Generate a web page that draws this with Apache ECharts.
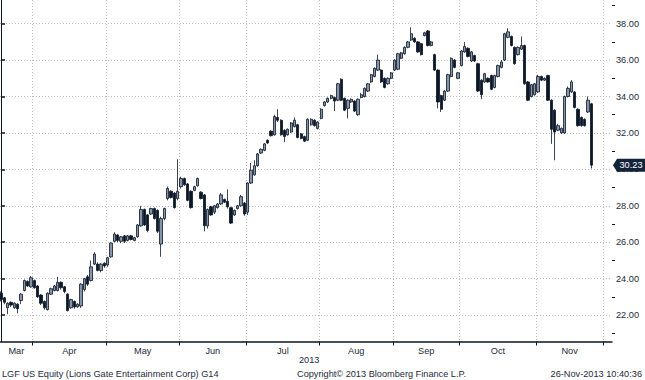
<!DOCTYPE html>
<html><head><meta charset="utf-8">
<script src="https://cdn.jsdelivr.net/npm/echarts@6/dist/echarts.min.js"></script>
<style>html,body{margin:0;padding:0;background:#fff}#c{width:645px;height:380px}</style>
</head><body><div id="c"></div>
<script>
// [open, close, low, high] per trading day, mid-Mar to late Nov 2013
const candles = [
[23.2,22.85,22.75,23.3],[22.95,22.7,22.6,23.0],[22.4,22.65,22.05,22.7],[22.7,22.55,22.45,22.75],[22.4,22.65,22.35,22.7],
[22.6,22.35,22.1,22.65],[22.8,23.15,22.6,23.2],[23.35,23.9,23.3,23.95],[23.85,23.6,23.55,23.9],[23.55,24.05,23.5,24.15],
[23.9,23.5,23.45,23.95],[23.6,23.0,22.95,23.65],[23.1,22.65,22.55,23.15],[22.75,22.4,22.3,22.8],[22.3,23.2,22.25,23.25],
[23.15,23.45,23.1,23.5],[23.35,23.6,23.3,23.65],[23.35,23.8,23.3,24.1],[23.8,23.5,23.4,23.85],[23.55,23.3,23.2,23.6],
[23.15,22.25,22.2,23.2],[22.4,22.85,22.35,22.9],[22.75,22.45,22.35,22.8],[22.45,22.6,22.4,22.65],[22.5,23.7,22.4,23.75],
[23.4,24.0,23.3,24.05],[24.1,23.7,23.6,24.2],[23.9,24.65,23.85,25.0],[24.8,25.35,24.75,25.45],[24.8,24.45,24.4,24.9],
[24.45,24.8,24.35,24.85],[24.85,24.7,24.6,24.9],
[24.75,25.15,24.65,25.2],[25.2,25.95,25.15,26.0],[26.05,26.45,26.0,26.55],[26.4,26.1,26.0,26.45],[26.05,26.3,25.95,26.35],
[26.35,26.05,25.95,26.4],[26.1,26.35,26.05,26.4],[26.35,26.15,26.1,26.4],[26.1,26.25,26.05,26.3],[26.3,26.95,26.25,27.0],
[26.9,27.8,26.85,28.0],[27.8,26.95,26.9,27.85],[27.5,26.65,26.55,27.55],[27.55,27.85,27.5,27.9],[27.85,27.3,27.25,27.9],
[27.75,26.6,26.5,27.8],[25.9,27.3,25.2,27.4],[27.3,27.85,27.2,27.9],[28.4,28.95,28.3,29.05],[28.8,28.45,28.4,28.85],
[28.7,27.9,27.85,28.75],[28.4,28.8,28.3,30.55],
[29.05,29.5,28.95,29.6],[29.5,29.15,29.1,29.55],[29.2,28.3,28.25,29.25],[28.8,27.9,27.85,28.85],[28.85,29.05,28.8,29.1],
[29.1,29.5,29.05,29.55],[28.75,28.4,28.35,28.8],[28.6,26.9,26.6,28.65],[26.9,27.8,26.75,27.85],[27.95,27.5,27.45,28.0],
[27.65,28.0,27.55,28.05],[27.9,28.1,27.85,28.15],[28.1,28.6,28.05,28.7],[28.35,28.2,28.15,28.4],[28.25,27.95,27.85,28.9],
[27.9,27.05,27.0,27.95],[27.5,27.75,27.45,27.8],[27.85,28.0,27.8,28.05],[28.0,28.5,27.95,28.6],[28.15,27.55,27.45,28.2],
[27.65,29.25,27.5,29.3],[29.25,29.95,29.2,30.35],[29.7,30.2,29.65,30.5],[30.2,30.85,30.15,30.9],[30.9,31.1,30.85,31.15],
[31.05,31.4,31.0,31.45],[31.6,31.45,31.4,31.65],[32.1,31.85,31.8,32.15],[31.9,32.9,31.85,33.0],[32.85,32.7,32.6,33.3],
[32.7,31.9,31.85,32.75],[32.15,31.8,31.5,32.2],[31.9,32.2,31.85,32.25],[32.05,32.55,32.0,32.6],[32.35,32.7,32.3,32.85],
[32.45,31.75,31.7,32.5],[31.95,31.7,31.65,32.0],[31.8,31.55,31.5,31.85],[31.6,32.75,31.55,32.8],[32.45,32.75,32.4,32.8],
[32.7,32.4,32.35,32.75],[32.25,32.6,32.2,32.65],
[32.8,33.3,32.75,33.35],[33.5,33.7,33.45,33.75],[33.7,33.9,33.65,33.95],[33.9,34.05,33.85,34.1],[33.95,33.75,33.2,34.0],
[33.8,34.7,33.75,34.75],[34.95,33.8,33.75,35.0],[33.9,33.25,33.2,33.95],[33.35,33.8,32.8,33.85],[33.7,33.85,33.65,33.9],
[33.75,33.2,33.15,33.8],[33.0,33.85,32.95,33.9],[33.95,34.1,33.9,34.2],[34.0,34.45,33.95,34.5],[34.3,34.7,34.25,34.75],
[34.8,35.2,34.75,35.25],[35.1,35.55,35.05,35.6],[35.45,36.0,35.4,36.3],[35.45,34.8,34.75,35.5],[35.0,34.5,34.45,35.05],
[34.7,35.0,34.65,35.05],[35.0,35.3,34.95,35.35],
[35.45,36.0,35.4,36.05],[35.5,36.35,35.45,36.4],[36.1,36.4,36.05,36.45],[36.35,36.7,36.3,36.75],[36.7,37.0,36.65,37.05],
[37.1,37.45,37.05,37.8],[37.2,37.0,36.95,37.25],[37.0,36.45,36.4,37.05],[36.9,36.3,36.25,36.95],[37.35,37.5,37.3,37.55],
[37.6,36.8,36.75,37.65],[36.8,37.0,36.75,37.05],[36.3,35.45,35.4,36.35],[35.45,33.7,33.35,35.5],[34.05,33.3,33.15,34.1],
[33.8,34.3,33.75,34.35],[34.3,35.2,34.25,35.25],[35.1,36.1,35.05,36.15],[36.0,35.6,35.55,36.05],[35.0,35.3,34.95,35.35],
[35.7,36.5,35.65,36.55],[36.45,36.75,36.4,37.0],[36.65,36.2,36.15,36.7],[35.95,36.45,35.9,36.5],[36.25,35.95,35.9,36.3],
[35.8,34.3,34.25,35.85],[34.9,34.1,33.85,34.95],[34.8,35.25,34.75,35.3],[35.0,34.8,34.75,35.05],[35.15,34.4,34.35,35.2],
[34.5,35.15,34.45,35.2],[35.1,35.7,35.05,35.75],[35.6,35.9,35.55,36.0],[36.0,37.45,35.95,37.5],[37.25,37.55,37.2,37.75],
[37.3,36.8,36.75,37.35],[36.7,35.8,35.75,36.75],[36.3,36.7,36.25,36.75],[36.6,36.8,36.55,37.3],[36.8,34.7,34.65,36.85],
[34.8,33.8,33.75,34.85],[34.0,34.65,33.95,34.7],[34.1,34.7,34.05,34.75],
[34.25,35.1,34.2,35.2],[35.1,34.9,34.85,35.15],[34.9,35.0,34.85,35.05],[35.15,33.8,33.75,35.2],[33.8,32.2,31.4,33.85],
[33.25,32.05,30.5,33.3],[32.15,32.4,32.1,32.5],[32.0,32.25,31.95,32.3],[32.0,34.0,31.95,34.05],[34.0,34.45,33.95,34.55],
[34.25,34.8,34.2,34.9],[34.25,33.4,33.35,34.3],[33.3,32.4,32.35,33.35],[32.85,32.4,32.35,32.9],[32.75,32.4,32.35,32.8],
[33.15,33.8,33.1,34.0],[33.6,30.23,30.05,33.65]
];
const monthNames = ['Mar','Apr','May','Jun','Jul','Aug','Sep','Oct','Nov'];
const monthEnds = [9.5,31.5,53.5,73.5,95.5,117.5,137.5,160.5,180.5]; // boundaries in trading-day index
const yTicks = [22,24,26,28,30,32,34,36,38];
const yMinorTicks = [21,23,25,27,29,31,33,35,37,39];
const lastPrice = 30.23;

const xMin = -0.3, xMax = 183.2;
const monthMids = monthNames.map((m,k)=> ((k===0?xMin:monthEnds[k-1]) + monthEnds[k]) / 2);
const midName = {};
monthMids.forEach((v,k)=>{ midName[v.toFixed(2)] = monthNames[k]; });

const FONT = 'Liberation Sans';
const TXT = '#1c2a3d';
const DARK = '#0b1626';

const chart = echarts.init(document.getElementById('c'), null, {renderer:'svg'});
chart.setOption({
  animation:false,
  grid:{left:0,right:33,top:0,bottom:38.5},
  xAxis:{
    type:'value', min:xMin, max:xMax,
    axisLine:{show:true,lineStyle:{color:DARK,width:1.5}},
    axisTick:{show:true,customValues:monthEnds,length:4,lineStyle:{color:DARK,width:1}},
    axisLabel:{show:true,customValues:monthMids,margin:5,color:TXT,fontFamily:FONT,fontSize:9.2,
      formatter:(v)=>midName[Number(v).toFixed(2)]||''},
    splitLine:{show:true,lineStyle:{color:'#bcbcbc',type:[1,2],width:1}}
  },
  yAxis:[{
    type:'value', position:'right', min:20.55, max:39.3,
    axisLine:{show:true,lineStyle:{color:DARK,width:1}},
    axisTick:{show:true,customValues:yTicks,length:4,lineStyle:{color:DARK,width:1.5}},
    axisLabel:{show:true,customValues:yTicks,margin:4,color:TXT,fontFamily:FONT,fontSize:9.2,
      formatter:(v)=>Number(v).toFixed(2)},
    splitLine:{show:true,lineStyle:{color:'#bcbcbc',type:[1,2],width:1}}
  },{
    type:'value', position:'right', min:20.55, max:39.3,
    axisLine:{show:false},
    axisTick:{show:true,customValues:yMinorTicks,length:3,lineStyle:{color:DARK,width:1}},
    axisLabel:{show:false},
    splitLine:{show:false}
  }],
  series:[{
    type:'candlestick',
    data:candles.map((c,i)=>[i,c[0],c[1],c[2],c[3]]),
    encode:{x:0,y:[1,2,3,4]},
    barWidth:2.8,
    itemStyle:{color:'#8595a7',color0:DARK,borderColor:DARK,borderColor0:DARK,borderWidth:0.8},
    markPoint:{
      symbol:'path://M0,6 L4,0 L32,0 L32,12 L4,12 Z',
      symbolSize:[32,13],
      symbolOffset:[17,0],
      silent:true,
      itemStyle:{color:'#13233a'},
      label:{show:true,position:'inside',offset:[2,0],color:'#ffffff',fontFamily:FONT,fontSize:9.2,formatter:()=>lastPrice.toFixed(2)},
      data:[{coord:[xMax,lastPrice]}]
    }
  }],
  graphic:[
    {type:'text',left:299,top:355,style:{text:'2013',fill:TXT,font:'9.2px "Liberation Sans"'}},
    {type:'text',left:2,top:369,style:{text:'LGF US Equity (Lions Gate Entertainment Corp) G14',fill:TXT,font:'9.2px "Liberation Sans"'}},
    {type:'text',left:297,top:369,style:{text:'Copyright\u00a9 2013 Bloomberg Finance L.P.',fill:TXT,font:'9.2px "Liberation Sans"'}},
    {type:'text',right:3,top:369,style:{text:'26-Nov-2013 10:40:36',fill:TXT,font:'9.2px "Liberation Sans"'}}
  ]
});
</script></body></html>
